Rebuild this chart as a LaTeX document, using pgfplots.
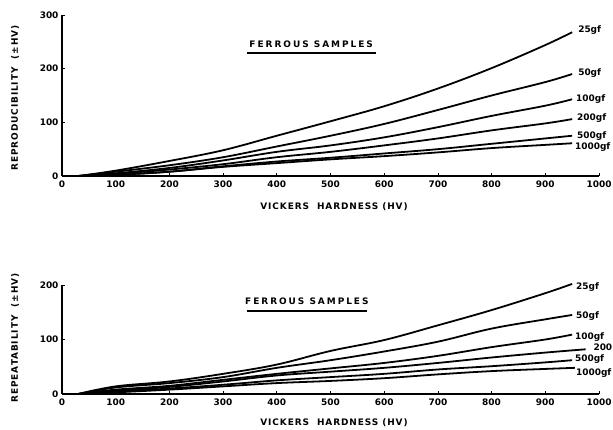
\documentclass[border=0pt]{standalone}
\usepackage{fontspec}
\setmainfont{DejaVu Sans}
\usepackage{pgfplots}
\pgfplotsset{compat=1.18}

\newcommand{\lab}{\fontsize{9}{10}\selectfont\bfseries}
\newcommand{\spaced}{\addfontfeatures{LetterSpace=10}}
\newcommand{\wide}{\addfontfeatures{LetterSpace=22}}

\tikzset{curvelab/.style={anchor=west, font=\lab, inner sep=0pt}}

\pgfplotsset{
  hv/.style={
    scale only axis,
    width=537bp,
    xmin=0, xmax=1000,
    ymin=0,
    enlargelimits=false,
    axis lines=left,
    axis line style={-, line width=1.1pt},
    tick align=inside,
    major tick length=3pt,
    tick style={line width=0.8pt, black},
    xtick={0,100,...,1000},
    ticklabel style={font=\lab},
    /pgf/number format/assume math mode=true,
    /pgf/number format/1000 sep={},
    xticklabel style={yshift=-1pt},
    clip=false,
    every axis plot post/.append style={black, solid, line width=1.8pt, smooth, tension=0.6, mark=none},
  }
}

\begin{document}
\begin{tikzpicture}
\useasboundingbox (0,0) rectangle (613bp,430bp);

% upper panel
\begin{axis}[hv, at={(62bp,254bp)}, anchor=south west, height=161bp,
  ymax=300, ytick={0,100,200,300}]
  \addplot coordinates {(30,0)(100,10)(200,28)(300,48)(400,75)(500,102)(600,130)(700,163)(800,201)(900,244)(950,268)};
  \addplot coordinates {(30,0)(100,8)(200,20)(300,35)(400,55)(500,75)(600,97)(700,123)(800,150)(900,175)(950,190)};
  \addplot coordinates {(30,0)(100,5)(200,15)(300,29)(400,45)(500,57)(600,72)(700,91)(800,112)(900,131)(950,143)};
  \addplot coordinates {(40,0)(100,4)(200,12)(300,22)(400,35)(500,45)(600,57)(700,70)(800,85)(900,98)(950,106)};
  \addplot coordinates {(50,0)(100,2)(200,8)(300,18)(400,27)(500,34)(600,42)(700,50)(800,60)(900,70)(950,75)};
  \addplot coordinates {(50,0)(100,2)(200,8)(300,17)(400,24)(500,31)(600,37)(700,44)(800,52)(900,58)(950,61)};
  \node[curvelab] at (axis cs:961,272) {25gf};
  \node[curvelab] at (axis cs:961,192) {50gf};
  \node[curvelab] at (axis cs:957,143) {100gf};
  \node[curvelab] at (axis cs:959,108) {200gf};
  \node[curvelab] at (axis cs:959,74) {500gf};
  \node[curvelab] at (axis cs:955,54) {1000gf};
  \node[font=\lab\wide] at (axis cs:464,246) {FERROUS\ SAMPLES};
  \draw[line width=1.4pt] (axis cs:344,229) -- (axis cs:585,229);
\end{axis}

% lower panel
\begin{axis}[hv, at={(62bp,36bp)}, anchor=south west, height=109bp,
  ymax=200, ytick={0,100,200}]
  \addplot coordinates {(30,0)(100,14)(200,23)(300,37)(400,54)(500,79)(600,99)(700,126)(800,154)(900,185)(950,202)};
  \addplot coordinates {(30,0)(100,12)(200,20)(300,31)(400,48)(500,62)(600,78)(700,96)(800,120)(900,137)(950,145)};
  \addplot coordinates {(30,0)(100,8)(200,15)(300,26)(400,37)(500,47)(600,57)(700,70)(800,86)(900,100)(950,109)};
  \addplot coordinates {(30,0)(100,6)(200,13)(300,23)(400,34)(500,41)(600,48)(700,57)(800,67)(900,76)(975,82)};
  \addplot coordinates {(40,0)(100,4)(200,10)(300,17)(400,25)(500,31)(600,37)(700,45)(800,51)(900,58)(950,62)};
  \addplot coordinates {(40,0)(100,3)(200,8)(300,14)(400,20)(500,24)(600,29)(700,36)(800,42)(900,46)(955,48)};
  \node[curvelab] at (axis cs:957,196) {25gf};
  \node[curvelab] at (axis cs:957,143) {50gf};
  \node[curvelab] at (axis cs:955,105) {100gf};
  \node[curvelab, anchor=east] at (axis cs:1025,85) {200};
  \node[curvelab] at (axis cs:955,64) {500gf};
  \node[curvelab] at (axis cs:957,39) {1000gf};
  \node[font=\lab\wide] at (axis cs:456,171) {FERROUS\ SAMPLES};
  \draw[line width=1.4pt] (axis cs:344,152) -- (axis cs:568,152);
\end{axis}

% axis titles
\node[rotate=90, font=\lab\spaced] at (15bp,332bp) {REPRODUCIBILITY\ \ (\textpm HV)};
\node[rotate=90, font=\lab\spaced] at (15bp,92bp) {REPEATABILITY\ \ (\textpm HV)};
\node[font=\lab\spaced] at (334bp,223bp) {VICKERS\ \ HARDNESS\ (HV)};
\node[font=\lab\spaced] at (334bp,7bp) {VICKERS\ \ HARDNESS\ (HV)};
\end{tikzpicture}
\end{document}
